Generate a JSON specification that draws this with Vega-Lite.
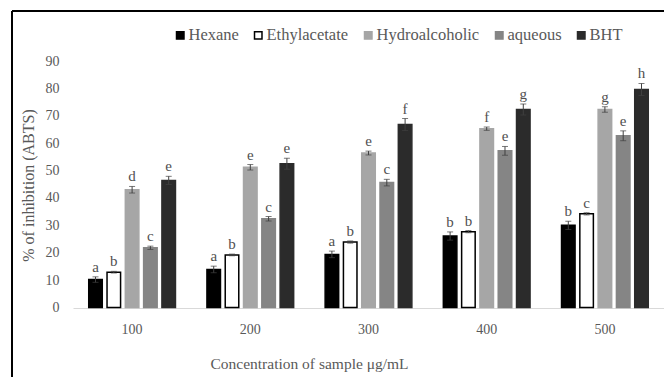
{
  "$schema": "https://vega.github.io/schema/vega-lite/v6.json",
  "autosize": "none",
  "width": 652,
  "height": 366,
  "padding": {"left": 12, "top": 11, "right": 0, "bottom": 0},
  "background": "white",
  "config": {
    "font": "Liberation Serif",
    "view": {"stroke": "#000000", "strokeWidth": 2, "strokeDash": [652, 1018, 366, 0]},
    "axis": {
      "labelFont": "Liberation Serif",
      "labelFontSize": 14,
      "labelColor": "#595959",
      "titleFont": "Liberation Serif",
      "titleFontWeight": "normal",
      "titleColor": "#595959",
      "grid": false,
      "ticks": false
    },
    "axisY": {"labelFont": "Liberation Serif", "titleFont": "Liberation Serif"},
    "axisLeft": {"labelFont": "Liberation Serif", "titleFont": "Liberation Serif"}
  },
  "data": {
    "values": [
      {"conc": "100", "solvent": "Hexane", "value": 10.2, "lo": 9.2, "hi": 11.2, "letter": "a"},
      {"conc": "100", "solvent": "Ethylacetate", "value": 12.9, "lo": 12.6, "hi": 13.2, "letter": "b"},
      {"conc": "100", "solvent": "Hydroalcoholic", "value": 43.0, "lo": 41.8, "hi": 44.2, "letter": "d"},
      {"conc": "100", "solvent": "aqueous", "value": 21.8, "lo": 21.2, "hi": 22.4, "letter": "c"},
      {"conc": "100", "solvent": "BHT", "value": 46.4, "lo": 44.9, "hi": 47.9, "letter": "e"},
      {"conc": "200", "solvent": "Hexane", "value": 13.9, "lo": 12.7, "hi": 15.1, "letter": "a"},
      {"conc": "200", "solvent": "Ethylacetate", "value": 19.2, "lo": 18.9, "hi": 19.5, "letter": "b"},
      {"conc": "200", "solvent": "Hydroalcoholic", "value": 51.2, "lo": 50.2, "hi": 52.2, "letter": "e"},
      {"conc": "200", "solvent": "aqueous", "value": 32.4, "lo": 31.6, "hi": 33.2, "letter": "c"},
      {"conc": "200", "solvent": "BHT", "value": 52.5, "lo": 50.5, "hi": 54.5, "letter": "e"},
      {"conc": "300", "solvent": "Hexane", "value": 19.4, "lo": 18.2, "hi": 20.6, "letter": "a"},
      {"conc": "300", "solvent": "Ethylacetate", "value": 23.9, "lo": 23.5, "hi": 24.3, "letter": "b"},
      {"conc": "300", "solvent": "Hydroalcoholic", "value": 56.4, "lo": 55.7, "hi": 57.1, "letter": "e"},
      {"conc": "300", "solvent": "aqueous", "value": 45.6, "lo": 44.4, "hi": 46.8, "letter": "c"},
      {"conc": "300", "solvent": "BHT", "value": 66.8, "lo": 64.6, "hi": 69.0, "letter": "f"},
      {"conc": "400", "solvent": "Hexane", "value": 26.1, "lo": 24.6, "hi": 27.6, "letter": "b"},
      {"conc": "400", "solvent": "Ethylacetate", "value": 27.7, "lo": 27.3, "hi": 28.1, "letter": "b"},
      {"conc": "400", "solvent": "Hydroalcoholic", "value": 65.3, "lo": 64.7, "hi": 65.9, "letter": "f"},
      {"conc": "400", "solvent": "aqueous", "value": 57.2, "lo": 55.6, "hi": 58.8, "letter": "e"},
      {"conc": "400", "solvent": "BHT", "value": 72.3, "lo": 70.3, "hi": 74.3, "letter": "g"},
      {"conc": "500", "solvent": "Hexane", "value": 30.0, "lo": 28.5, "hi": 31.5, "letter": "b"},
      {"conc": "500", "solvent": "Ethylacetate", "value": 34.2, "lo": 33.8, "hi": 34.6, "letter": "c"},
      {"conc": "500", "solvent": "Hydroalcoholic", "value": 72.3, "lo": 71.3, "hi": 73.3, "letter": "g"},
      {"conc": "500", "solvent": "aqueous", "value": 62.7, "lo": 60.9, "hi": 64.5, "letter": "e"},
      {"conc": "500", "solvent": "BHT", "value": 79.6, "lo": 77.4, "hi": 81.8, "letter": "h"}
    ]
  },
  "encoding": {
    "x": {
      "field": "conc",
      "type": "ordinal",
      "scale": {"range": [61, 652], "paddingInner": 0, "paddingOuter": 0},
      "axis": {
        "title": "Concentration of sample μg/mL",
        "orient": "bottom",
        "offset": -69,
        "labelAngle": 0,
        "domainColor": "#d9d9d9",
        "domainWidth": 1,
        "labelPadding": 14,
        "titleFontSize": 15.5,
        "titleX": 297,
        "titleY": 55,
        "titleBaseline": "middle",
        "titleAlign": "center",
        "encode": {"labels": {"update": {"dx": {"signal": "-1 - 32*datum.index"}}}}
      }
    },
    "xOffset": {
      "field": "solvent",
      "type": "nominal",
      "sort": ["Hexane", "Ethylacetate", "Hydroalcoholic", "aqueous", "BHT"],
      "scale": {"paddingInner": 0.26, "paddingOuter": 0.86}
    }
  },
  "layer": [
    {
      "mark": {"type": "bar", "strokeWidth": 1.5},
      "encoding": {
        "y": {
          "field": "value",
          "type": "quantitative",
          "scale": {"domain": [-25.37, 108.26], "nice": false, "zero": false},
          "axis": {
            "title": "% of inhibition  (ABTS)",
            "values": [0, 10, 20, 30, 40, 50, 60, 70, 80, 90],
            "offset": -51,
            "domain": false,
            "labelPadding": 4,
            "labelFont": "Liberation Serif",
            "titleFont": "Liberation Serif",
            "titleFontSize": 16,
            "titleX": -35,
            "titleY": 174,
            "titleBaseline": "middle",
            "titleAlign": "center"
          }
        },
        "y2": {"datum": 0},
        "fill": {
          "field": "solvent",
          "type": "nominal",
          "scale": {
            "domain": ["Hexane", "Ethylacetate", "Hydroalcoholic", "aqueous", "BHT"],
            "range": ["#000000", "#ffffff", "#a6a6a6", "#858585", "#2b2b2b"]
          },
          "legend": {
            "title": null,
            "orient": "none",
            "direction": "horizontal",
            "legendX": 160,
            "legendY": 16,
            "padding": 0,
            "symbolType": "square",
            "symbolSize": 56,
            "symbolStrokeWidth": 1.5,
            "labelOffset": 0,
            "columnPadding": 11,
            "labelFont": "Liberation Serif",
            "labelFontSize": 16.5,
            "labelColor": "#595959"
          }
        },
        "stroke": {
          "field": "solvent",
          "type": "nominal",
          "scale": {
            "domain": ["Hexane", "Ethylacetate", "Hydroalcoholic", "aqueous", "BHT"],
            "range": ["#000000", "#000000", "#a6a6a6", "#858585", "#2b2b2b"]
          },
          "legend": {
            "title": null,
            "orient": "none",
            "direction": "horizontal",
            "legendX": 160,
            "legendY": 16,
            "padding": 0,
            "symbolType": "square",
            "symbolSize": 56,
            "symbolStrokeWidth": 1.5,
            "labelOffset": 0,
            "columnPadding": 11,
            "labelFont": "Liberation Serif",
            "labelFontSize": 16.5,
            "labelColor": "#595959"
          }
        }
      }
    },
    {
      "mark": {"type": "rule", "color": "#404040", "strokeWidth": 1},
      "encoding": {
        "y": {"field": "lo", "type": "quantitative", "axis": null},
        "y2": {"field": "hi"}
      }
    },
    {
      "mark": {"type": "tick", "color": "#404040", "thickness": 1, "size": 6},
      "encoding": {"y": {"field": "lo", "type": "quantitative", "axis": null}}
    },
    {
      "mark": {"type": "tick", "color": "#404040", "thickness": 1, "size": 6},
      "encoding": {"y": {"field": "hi", "type": "quantitative", "axis": null}}
    },
    {
      "mark": {"type": "text", "font": "Liberation Serif", "fontSize": 15, "fill": "#505050", "baseline": "alphabetic", "dy": -5},
      "encoding": {
        "y": {"field": "hi", "type": "quantitative", "axis": null},
        "text": {"field": "letter"}
      }
    }
  ],
  "resolve": {"axis": {"y": "independent"}}
}
